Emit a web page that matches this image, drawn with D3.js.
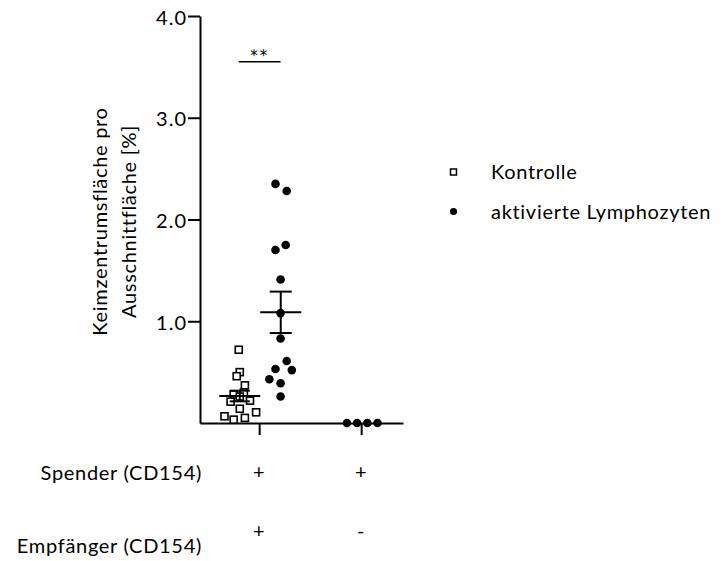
<!DOCTYPE html>
<html>
<head>
<meta charset="utf-8">
<script src="https://cdn.jsdelivr.net/npm/d3@7"></script>
<style>
  body { margin: 0; background: #fff; }
  text { fill: #000; }
</style>
</head>
<body>
<svg id="chart" width="723" height="561"></svg>
<script>
// ----------------------------
// Data
// ----------------------------
const groups = [1, 2];
const spenderSigns = ["+", "+"];
const empfaengerSigns = ["+", "-"];

// Kontrolle, group 1 (x = position in category units, scatter jitter)
const kontrolleValues = [0.72, 0.50, 0.46, 0.37, 0.30, 0.28, 0.26, 0.22, 0.21, 0.14, 0.105, 0.066, 0.05, 0.033];
const kontrolleX      = [0.80, 0.81, 0.78, 0.86, 0.85, 0.75, 0.81, 0.91, 0.72, 0.81, 0.97, 0.66, 0.86, 0.75];

// aktivierte Lymphozyten, group 1
const lymphValues = [2.35, 2.28, 1.75, 1.70, 1.41, 1.08, 0.83, 0.61, 0.53, 0.52, 0.43, 0.39, 0.26];
const lymphX      = [1.16, 1.27, 1.26, 1.16, 1.21, 1.21, 1.21, 1.27, 1.16, 1.32, 1.10, 1.21, 1.21];

// aktivierte Lymphozyten, group 2
const lymph2Values = [0, 0, 0, 0];
const lymph2X      = [1.86, 1.96, 2.06, 2.16];

const yTicks = [1, 2, 3, 4];
const legendLabels = ["Kontrolle", "aktivierte Lymphozyten"];
const sigLabel = "**";
const sigSpan = [0.80, 1.21];
const sigLevel = 3.55;

// ----------------------------
// Plotting
// ----------------------------
const svg = d3.select("#chart");
const labelFont = "Lato, 'Open Sans', sans-serif";

const x = d3.scaleLinear().domain([0.42, 2.41]).range([200, 403]);
const y = d3.scaleLinear().domain([0, 4]).range([423, 16]);

// y axis
const yAxis = svg.append("g")
    .attr("transform", `translate(${x(0.42)},0)`)
    .call(d3.axisLeft(y).tickValues(yTicks).tickSize(12).tickSizeOuter(0)
      .tickFormat(d3.format(".1f")));
yAxis.selectAll("path, line").attr("stroke", "#000").attr("stroke-width", 2);
yAxis.selectAll("text")
    .attr("font-family", labelFont)
    .attr("font-size", 20)
    .attr("letter-spacing", 1)
    .attr("x", -13)
    .attr("dy", "0.4em")
    .attr("fill", "#000");

// x axis
const xAxis = svg.append("g")
    .attr("transform", `translate(0,${y(0)})`)
    .call(d3.axisBottom(x).tickValues(groups).tickSize(12).tickSizeOuter(0).tickFormat(""));
xAxis.selectAll("path, line").attr("stroke", "#000").attr("stroke-width", 2);

// y axis title
const yTitle = svg.append("text")
    .attr("transform", `translate(100,${(y(0) + y(4)) / 2 + 2}) rotate(-90)`)
    .attr("text-anchor", "middle")
    .attr("font-family", labelFont)
    .attr("font-size", 20)
    .attr("letter-spacing", 0.7);
yTitle.append("tspan").attr("x", 0).attr("dy", 7).text("Keimzentrumsfläche pro");
yTitle.append("tspan").attr("x", 0).attr("dy", 29).text("Ausschnittfläche [%]");

// mean + SEM helper
function drawMean(values, xs, halfW, capW) {
  const m = d3.mean(values);
  const sem = values.length > 1 ? d3.deviation(values) / Math.sqrt(values.length) : 0;
  const cx = d3.mean(xs);
  const px = x(cx);
  const g = svg.append("g").attr("stroke", "#000").attr("stroke-width", 2);
  g.append("line").attr("x1", px - halfW).attr("x2", px + halfW).attr("y1", y(m)).attr("y2", y(m));
  if (sem > 0) {
    g.append("line").attr("x1", px).attr("x2", px).attr("y1", y(m - sem)).attr("y2", y(m + sem));
    [m - sem, m + sem].forEach(v => {
      g.append("line").attr("x1", px - capW).attr("x2", px + capW).attr("y1", y(v)).attr("y2", y(v));
    });
  }
}

// Kontrolle squares
const sq = 7;
svg.append("g").selectAll("rect")
  .data(kontrolleValues)
  .join("rect")
    .attr("x", (d, i) => x(kontrolleX[i]) - sq / 2)
    .attr("y", d => y(d) - sq / 2)
    .attr("width", sq)
    .attr("height", sq)
    .attr("fill", "#fff")
    .attr("stroke", "#000")
    .attr("stroke-width", 1.6);

// Lymphozyten dots
svg.append("g").selectAll("circle")
  .data(lymphValues.map((v, i) => [lymphX[i], v]).concat(lymph2Values.map((v, i) => [lymph2X[i], v])))
  .join("circle")
    .attr("cx", d => x(d[0]))
    .attr("cy", d => y(d[1]))
    .attr("r", 4.3)
    .attr("fill", "#000");

drawMean(kontrolleValues, kontrolleX, 20.5, 10);
drawMean(lymphValues, lymphX, 20.5, 11);

// significance bar
svg.append("line")
    .attr("x1", x(sigSpan[0])).attr("x2", x(sigSpan[1]))
    .attr("y1", y(sigLevel)).attr("y2", y(sigLevel))
    .attr("stroke", "#000").attr("stroke-width", 1.5);
svg.append("text")
    .attr("x", x(d3.mean(sigSpan)))
    .attr("y", y(sigLevel) - 1)
    .attr("text-anchor", "middle")
    .attr("font-family", "'DejaVu Sans', sans-serif")
    .attr("font-size", 15)
    .attr("letter-spacing", 2)
    .text(sigLabel);

// legend
const legend = svg.append("g").attr("font-family", labelFont).attr("font-size", 20).attr("letter-spacing", 0.7);
legend.append("rect")
    .attr("x", 450.5).attr("y", 169).attr("width", 6).attr("height", 6)
    .attr("fill", "#fff").attr("stroke", "#000").attr("stroke-width", 1.5);
legend.append("circle").attr("cx", 453.5).attr("cy", 211.5).attr("r", 3.6).attr("fill", "#000");
legendLabels.forEach((t, i) => {
  legend.append("text").attr("x", 491).attr("y", 179 + i * 40).text(t);
});

// condition table under the axis
const table = svg.append("g").attr("font-family", labelFont).attr("font-size", 20).attr("letter-spacing", 0.7);
table.append("text").attr("x", 202).attr("y", 480).attr("text-anchor", "end").text("Spender (CD154)");
table.append("text").attr("x", 202).attr("y", 553).attr("text-anchor", "end").text("Empfänger (CD154)");
table.selectAll(".sp")
  .data(spenderSigns)
  .join("text")
    .attr("x", (d, i) => x(groups[i]))
    .attr("y", 479)
    .attr("text-anchor", "middle")
    .text(d => d);
table.selectAll(".em")
  .data(empfaengerSigns)
  .join("text")
    .attr("x", (d, i) => x(groups[i]))
    .attr("y", 538)
    .attr("text-anchor", "middle")
    .text(d => d);
</script>
</body>
</html>
